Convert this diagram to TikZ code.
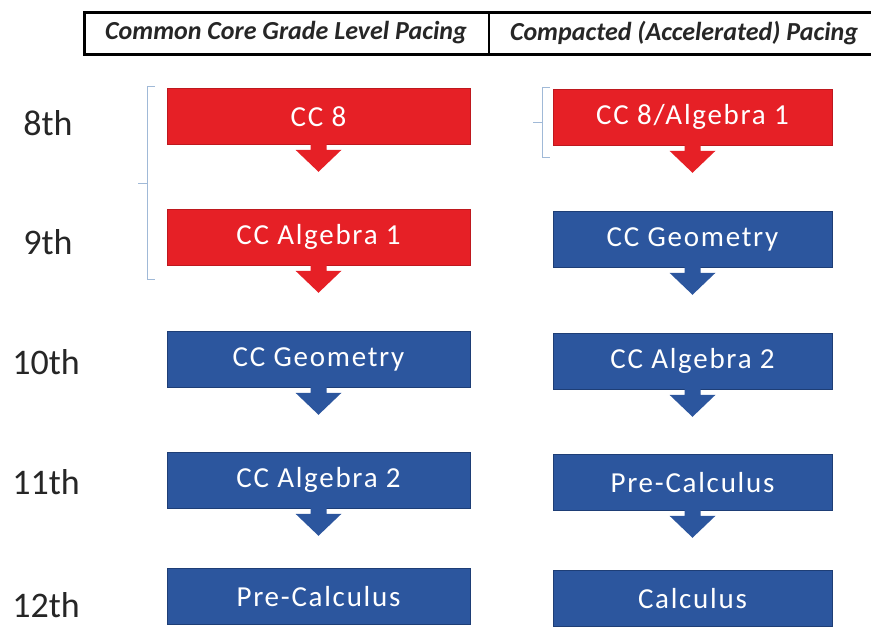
\documentclass[tikz,border=0pt]{standalone}
\usepackage{fontspec}
\setmainfont{Carlito}
\definecolor{bred}{RGB}{230,32,38}
\definecolor{bredd}{RGB}{190,24,30}
\definecolor{bblue}{RGB}{44,86,158}
\definecolor{bblued}{RGB}{30,62,118}
\definecolor{brace}{RGB}{160,185,215}
\tikzset{
  course/.style={draw=#1d, fill=#1, line width=0.8pt, text=white, minimum height=56pt, inner sep=0pt, anchor=north, font=\fontsize{29}{32}\selectfont\addfontfeature{LetterSpace=6}},
  lcourse/.style={course=#1, minimum width=303pt},
  rcourse/.style={course=#1, minimum width=279pt},
  grade/.style={font=\fontsize{36}{40}\selectfont, text=black!85},
  hdr/.style={font=\fontsize{26}{28}\selectfont\bfseries\itshape, text=black!85},
  bracket/.style={draw=brace, line width=0.8pt},
}
\newcommand{\flowarrow}[2]{%
  \fill[#2] ([xshift=-8pt,yshift=1pt]#1.south) -- ([xshift=-8pt,yshift=-5pt]#1.south) -- ([xshift=-23pt,yshift=-5pt]#1.south) -- ([yshift=-27pt]#1.south) -- ([xshift=23pt,yshift=-5pt]#1.south) -- ([xshift=8pt,yshift=-5pt]#1.south) -- ([xshift=8pt,yshift=1pt]#1.south) -- cycle;}
\begin{document}
\begin{tikzpicture}[x=1pt,y=-1pt]
\useasboundingbox (0,0) rectangle (871,628);
% header
\draw[line width=3pt] (84,13) rectangle (880,55);
\draw[line width=1.8pt] (489,13) -- (489,55);
\node[hdr] (h1) at (286,33) {Common Core Grade Level Pacing};
\node[hdr] (h2) at (684,33) {Compacted (Accelerated) Pacing};
% grades
\node[grade] (g8) at (48,123) {8th};
\node[grade] (g9) at (48,242) {9th};
\node[grade] (g10) at (46,362) {10th};
\node[grade] (g11) at (46,482) {11th};
\node[grade] (g12) at (46,605) {12th};
% left column
\node[lcourse=bred] (l1) at (318.5,88) {CC 8};
\node[lcourse=bred] (l2) at (318.5,209) {CC Algebra 1};
\node[lcourse=bblue] (l3) at (318.5,331) {CC Geometry};
\node[lcourse=bblue] (l4) at (318.5,452) {CC Algebra 2};
\node[lcourse=bblue] (l5) at (318.5,568) {Pre-Calculus};
% right column
\node[rcourse=bred] (r1) at (692.5,89) {CC 8/Algebra 1};
\node[rcourse=bblue] (r2) at (692.5,211) {CC Geometry};
\node[rcourse=bblue] (r3) at (692.5,333) {CC Algebra 2};
\node[rcourse=bblue] (r4) at (692.5,454) {Pre-Calculus};
\node[rcourse=bblue] (r5) at (692.5,570) {Calculus};
% arrows
\flowarrow{l1}{bred}
\flowarrow{l2}{bred}
\flowarrow{l3}{bblue}
\flowarrow{l4}{bblue}
\flowarrow{r1}{bred}
\flowarrow{r2}{bblue}
\flowarrow{r3}{bblue}
\flowarrow{r4}{bblue}
% brackets
\draw[bracket] (155,86) -- (147,86) -- (147,279) -- (155,279);
\draw[bracket] (147,183) -- (138,183);
\draw[bracket] (550,87) -- (542,87) -- (542,157) -- (550,157);
\draw[bracket] (542,122) -- (533,122);
\end{tikzpicture}
\end{document}
